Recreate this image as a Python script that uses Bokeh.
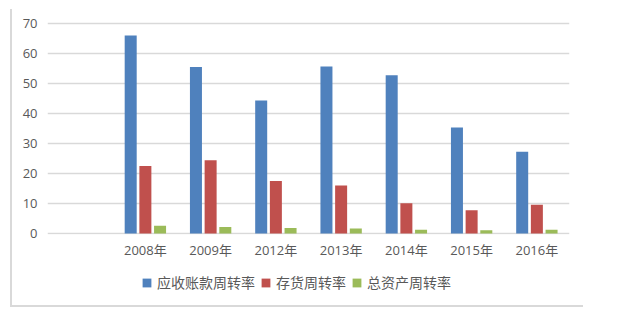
from bokeh.plotting import figure
from bokeh.layouts import column
from bokeh.models import (FactorRange, Range1d, Legend, LegendItem, ColumnDataSource,
                          FixedTicker)
from bokeh.transform import dodge
from bokeh.embed import file_html
from bokeh.resources import INLINE

categories = [" ", "2008年", "2009年", "2012年", "2013年", "2014年", "2015年", "2016年"]
years = ["2008年", "2009年", "2012年", "2013年", "2014年", "2015年", "2016年"]
receivable_turnover = [65.9, 55.4, 44.3, 55.6, 52.7, 35.3, 27.2]
inventory_turnover = [22.5, 24.4, 17.5, 16.0, 10.1, 7.8, 9.6]
asset_turnover = [2.6, 2.2, 1.9, 1.7, 1.3, 1.1, 1.3]
series_names = ["应收账款周转率", "存货周转率", "总资产周转率"]
colors = ["#4F81BD", "#C0504D", "#9BBB59"]
y_ticks = [0, 10, 20, 30, 40, 50, 60, 70]

source = ColumnDataSource(dict(
    year=years, s0=receivable_turnover, s1=inventory_turnover, s2=asset_turnover))

x_range = FactorRange(*categories, range_padding=0)
offsets = [-0.225, 0.0, 0.225]

# ---- main chart ----
p = figure(
    x_range=x_range,
    y_range=Range1d(-0.3, 70.56),
    width=571, height=260,
    output_backend="svg", toolbar_location=None,
    min_border_left=35, min_border_right=14, min_border_top=12, min_border_bottom=35,
)
p.outline_line_color = None
p.background_fill_color = "white"
p.border_fill_color = "white"

for i, col in enumerate(colors):
    p.vbar(x=dodge("year", offsets[i], range=x_range), top="s%d" % i, bottom=0,
           width=0.184, source=source, fill_color=col, line_color=None)

p.xgrid.grid_line_color = None
p.ygrid.ticker = FixedTicker(ticks=y_ticks)
p.ygrid.grid_line_color = "#D9D9D9"
p.ygrid.grid_line_width = 1.5

p.yaxis.ticker = FixedTicker(ticks=y_ticks)
for ax in (p.xaxis, p.yaxis):
    ax.axis_line_color = None
    ax.major_tick_line_color = None
    ax.minor_tick_line_color = None
    ax.major_tick_out = 0
    ax.major_tick_in = 0
    ax.minor_tick_out = 0
    ax.major_label_text_color = "#595959"
    ax.major_label_text_font = "Open Sans, Noto Sans CJK SC"
    ax.major_label_text_font_size = "13px"
p.yaxis.major_label_standoff = 10
p.xaxis.major_label_standoff = 6

# ---- legend strip (same series, drawn out of its visible y-range) ----
q = figure(
    x_range=x_range, y_range=Range1d(100, 101),
    width=571, height=36,
    output_backend="svg", toolbar_location=None,
    x_axis_location=None, y_axis_location=None,
    min_border_left=0, min_border_right=0, min_border_top=0, min_border_bottom=0,
)
q.outline_line_color = None
q.grid.visible = False
q.background_fill_color = "white"
q.border_fill_color = "white"

legend_renderers = []
for i, col in enumerate(colors):
    legend_renderers.append(q.vbar(x=dodge("year", offsets[i], range=x_range), top="s%d" % i,
                                   bottom=0, width=0.184, source=source,
                                   fill_color=col, line_color=None))

legend = Legend(
    items=[LegendItem(label=n, renderers=[r]) for n, r in zip(series_names, legend_renderers)],
    orientation="horizontal", location=(94, 13),
    glyph_width=11, glyph_height=11, label_standoff=5, spacing=5,
    padding=0, margin=0,
    label_text_font="Noto Sans CJK SC", label_text_font_size="14px",
    label_text_color="#595959",
    border_line_color=None, background_fill_alpha=0,
)
q.add_layout(legend)

layout = column(
    p, q, spacing=0, margin=(9, 0, 0, 10),
    styles={"border-left": "2px solid #D9D9D9", "border-bottom": "2px solid #D9D9D9"},
)

open("out.html", "w").write(file_html(layout, INLINE))
